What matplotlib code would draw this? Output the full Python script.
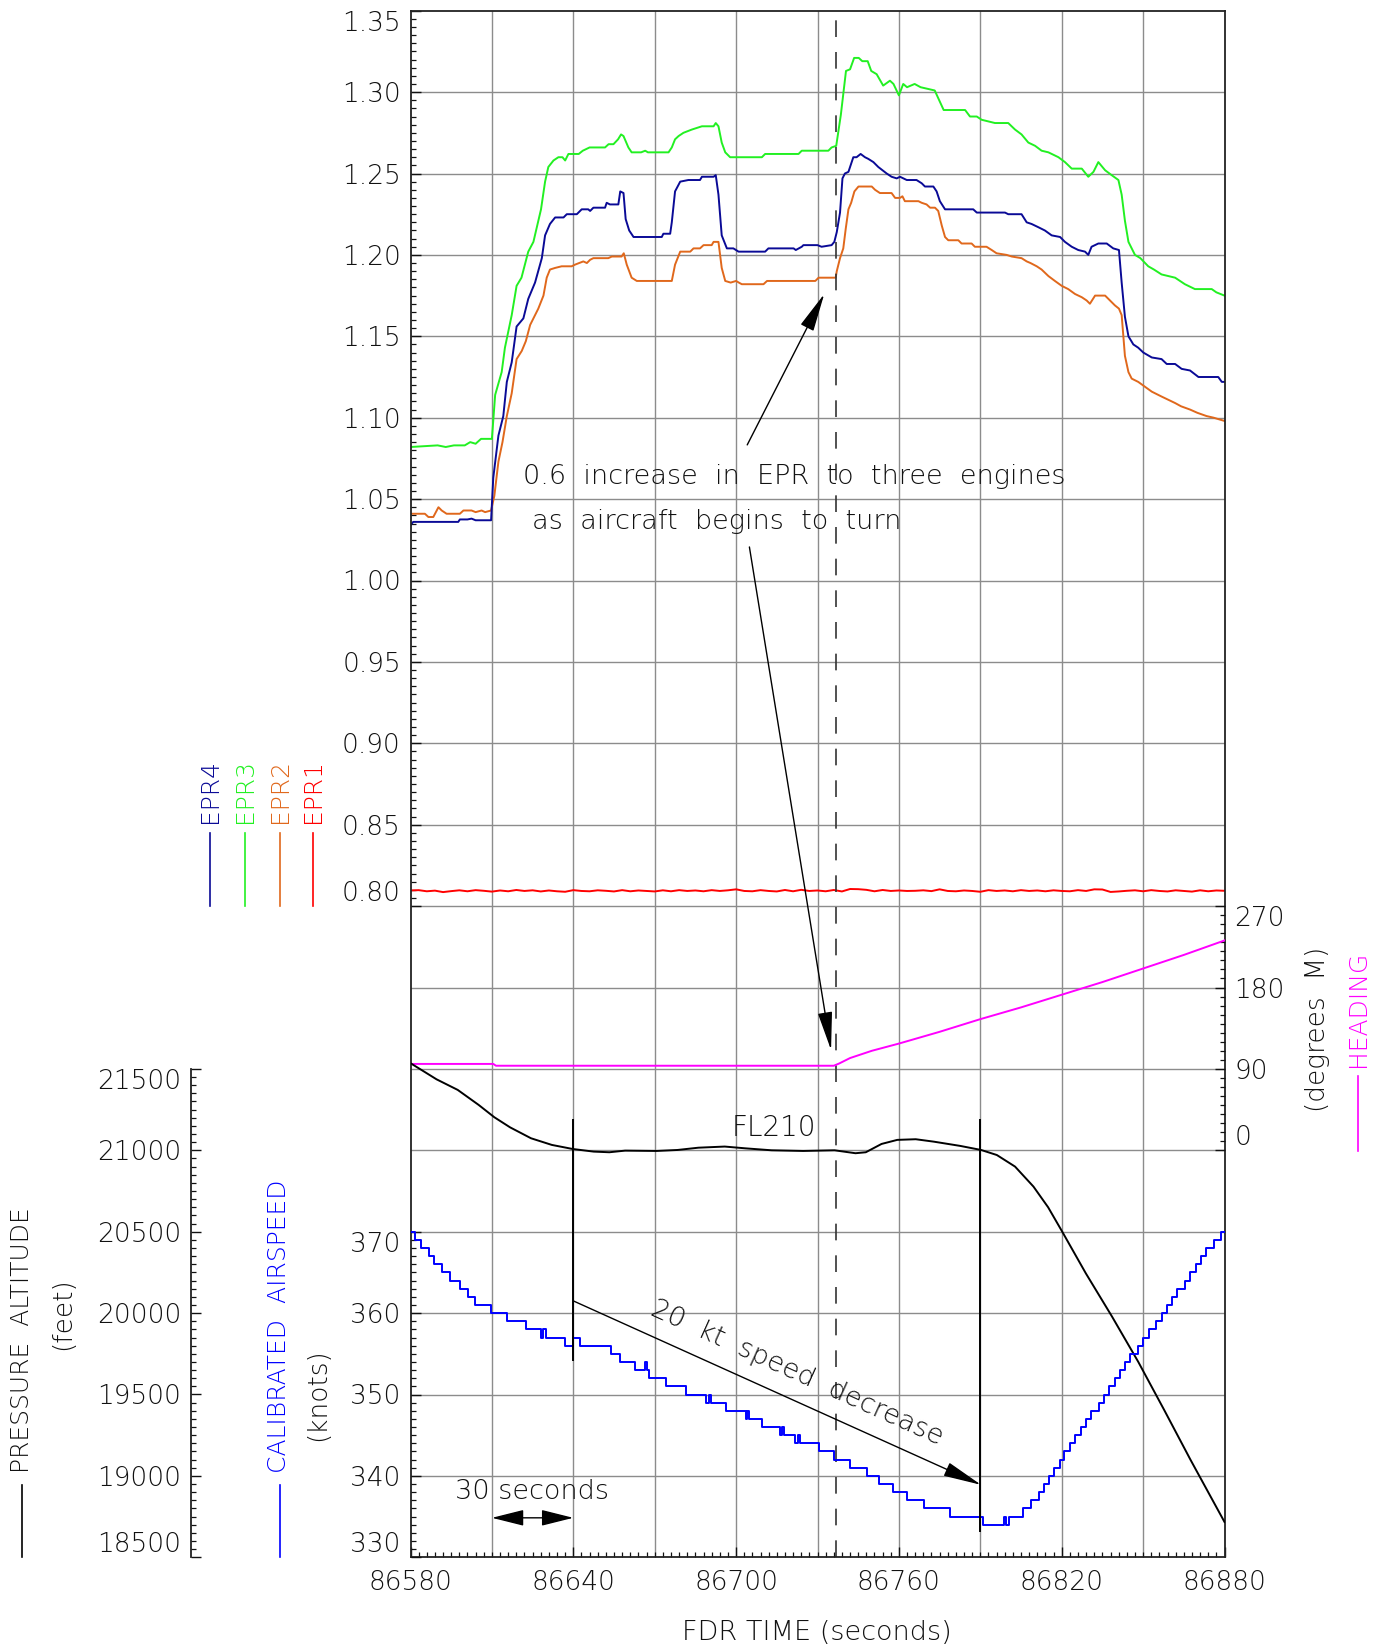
import numpy as np
import matplotlib
matplotlib.use('Agg')
import matplotlib.pyplot as plt
from matplotlib.ticker import FixedLocator, FuncFormatter
from matplotlib.lines import Line2D

plt.rcParams['font.family'] = ['DejaVu Sans']
plt.rcParams['font.weight'] = 'light'
plt.rcParams['font.size'] = 19
INK = '#111111'
plt.rcParams['text.color'] = INK

# ---------------- data ----------------
# EPR (engine pressure ratio), (FDR time s, EPR)
epr3 = [(86580, 1.082), (86590, 1.083), (86593, 1.082), (86596, 1.083), (86600, 1.083),
        (86602, 1.085), (86604, 1.084), (86606, 1.087), (86610, 1.087), (86611.2, 1.114),
        (86613.6, 1.128), (86614.8, 1.143), (86617.3, 1.163), (86619.1, 1.181), (86620.9, 1.186),
        (86623.4, 1.202), (86625.3, 1.208), (86628.1, 1.228), (86629.6, 1.245), (86630.8, 1.254),
        (86632.7, 1.258), (86634.5, 1.260), (86636, 1.260), (86637, 1.258), (86638.2, 1.262),
        (86642, 1.262), (86643.5, 1.264), (86646, 1.266), (86651.7, 1.266), (86653, 1.268),
        (86654.8, 1.268), (86656.5, 1.271), (86657.6, 1.274), (86658.5, 1.273), (86660.3, 1.266),
        (86661.5, 1.263), (86665, 1.263), (86666.5, 1.264), (86667.5, 1.263), (86675.1, 1.263),
        (86676.3, 1.266), (86677.5, 1.271), (86678.8, 1.273), (86680.6, 1.275), (86683.7, 1.277),
        (86687.4, 1.279), (86691.7, 1.279), (86692.5, 1.281), (86693.5, 1.279), (86694.7, 1.269),
        (86696, 1.263), (86697.8, 1.260), (86709.5, 1.260), (86710.7, 1.262), (86723, 1.262),
        (86724.2, 1.264), (86734, 1.264), (86735.2, 1.266), (86736.9, 1.267), (86738.6, 1.286),
        (86740.5, 1.313), (86742, 1.314), (86743.5, 1.321), (86745.2, 1.321), (86746.5, 1.319),
        (86748.5, 1.319), (86749.8, 1.313), (86751.8, 1.311), (86754.2, 1.304), (86756.7, 1.307),
        (86758, 1.305), (86760, 1.298), (86761.6, 1.305), (86763, 1.303), (86765.8, 1.305),
        (86768, 1.303), (86773.2, 1.301), (86776.5, 1.289), (86784.4, 1.289), (86786.2, 1.285),
        (86788.7, 1.285), (86790.5, 1.283), (86795.4, 1.281), (86800.3, 1.281), (86802.8, 1.277),
        (86805.2, 1.274), (86807.7, 1.269), (86810.2, 1.267), (86812.6, 1.264), (86815.1, 1.263),
        (86818.8, 1.260), (86821.2, 1.257), (86823.7, 1.253), (86827.4, 1.253), (86829.8, 1.248),
        (86831.7, 1.251), (86833.5, 1.257), (86836, 1.252), (86838.4, 1.249), (86840.9, 1.246),
        (86842.1, 1.237), (86843.3, 1.221), (86844.6, 1.208), (86847, 1.200), (86849, 1.198),
        (86851.9, 1.193), (86854, 1.191), (86856.8, 1.188), (86861.8, 1.186), (86865.4, 1.182),
        (86869.1, 1.179), (86875.3, 1.179), (86877, 1.177), (86880, 1.175)]

epr4 = [(86580, 1.034), (86581, 1.036), (86597.6, 1.036), (86598.2, 1.0375), (86601, 1.0375),
        (86602.5, 1.038), (86604, 1.037), (86609.7, 1.037), (86610.5, 1.063), (86612.4, 1.089),
        (86614.2, 1.101), (86615.5, 1.122), (86617.3, 1.134), (86619.1, 1.156), (86621.6, 1.161),
        (86623.4, 1.173), (86625.9, 1.183), (86628.4, 1.198), (86629.6, 1.212), (86631.4, 1.219),
        (86633.3, 1.223), (86636.4, 1.223), (86637.6, 1.225), (86641.3, 1.225), (86643.1, 1.228),
        (86645.5, 1.228), (86646.2, 1.227), (86647.4, 1.229), (86651.7, 1.229), (86652.3, 1.232),
        (86653.5, 1.231), (86656.6, 1.231), (86657.3, 1.239), (86658.5, 1.238), (86659.3, 1.222),
        (86660.6, 1.215), (86662.2, 1.211), (86672.6, 1.211), (86673.2, 1.213), (86675.7, 1.213),
        (86676.3, 1.220), (86677.5, 1.239), (86679.4, 1.245), (86682.4, 1.246), (86686.7, 1.246),
        (86687.4, 1.248), (86691.7, 1.248), (86692.5, 1.249), (86693.5, 1.237), (86694.7, 1.212),
        (86696.6, 1.204), (86699, 1.204), (86700.9, 1.202), (86710.7, 1.202), (86711.9, 1.204),
        (86721.2, 1.204), (86722, 1.203), (86724.2, 1.205), (86724.8, 1.206), (86730, 1.206),
        (86731.5, 1.205), (86735.2, 1.206), (86736.2, 1.208), (86737.1, 1.214), (86738.3, 1.226),
        (86739.2, 1.247), (86740.1, 1.250), (86741.4, 1.251), (86743.2, 1.260), (86744.4, 1.260),
        (86745.9, 1.262), (86747.5, 1.260), (86748.7, 1.259), (86750.6, 1.257), (86752.4, 1.254),
        (86755.5, 1.250), (86757.3, 1.248), (86759.2, 1.247), (86760.4, 1.248), (86762.9, 1.246),
        (86766.5, 1.246), (86768.4, 1.244), (86769.6, 1.242), (86772.7, 1.242), (86773.9, 1.239),
        (86775.1, 1.233), (86777, 1.228), (86787.4, 1.228), (86788.7, 1.226), (86799.1, 1.226),
        (86800.3, 1.225), (86805.2, 1.225), (86807.1, 1.220), (86808.9, 1.219), (86811.4, 1.217),
        (86813.8, 1.215), (86816.3, 1.212), (86819.4, 1.211), (86821.2, 1.208), (86823.7, 1.205),
        (86826.1, 1.203), (86828.6, 1.202), (86829.8, 1.200), (86831, 1.205), (86833.5, 1.207),
        (86836.6, 1.207), (86839, 1.204), (86841.1, 1.203), (86842.1, 1.183), (86843.3, 1.162),
        (86844.6, 1.150), (86846.4, 1.145), (86848.2, 1.143), (86850.1, 1.140), (86853.2, 1.137),
        (86856.8, 1.136), (86858.7, 1.133), (86861.8, 1.133), (86864.2, 1.130), (86867.3, 1.129),
        (86870.4, 1.125), (86877.7, 1.125), (86879, 1.122), (86880, 1.122)]

epr2 = [(86580, 1.041), (86585.3, 1.041), (86586.6, 1.039), (86588.4, 1.039), (86590.3, 1.045),
        (86591.5, 1.043), (86593.3, 1.041), (86598.2, 1.041), (86599.5, 1.043), (86602.5, 1.043),
        (86604, 1.042), (86606.2, 1.043), (86607.5, 1.042), (86609.7, 1.043), (86610.9, 1.052),
        (86612.4, 1.073), (86613.9, 1.085), (86615.5, 1.101), (86617.3, 1.115), (86619.1, 1.136),
        (86621, 1.141), (86622.5, 1.147), (86624.1, 1.157), (86625.3, 1.161), (86627.1, 1.167),
        (86629, 1.175), (86630.2, 1.186), (86631.4, 1.191), (86633.3, 1.192), (86635.7, 1.193),
        (86639.4, 1.193), (86640.6, 1.194), (86643.7, 1.196), (86645, 1.195), (86646.2, 1.197),
        (86647.4, 1.198), (86652.9, 1.198), (86654.2, 1.199), (86657.8, 1.199), (86658.6, 1.201),
        (86659.7, 1.194), (86661.5, 1.186), (86663.4, 1.184), (86676.3, 1.184), (86677.5, 1.194),
        (86679.4, 1.202), (86683.1, 1.202), (86684.3, 1.204), (86686.7, 1.204), (86688, 1.206),
        (86691, 1.206), (86691.7, 1.208), (86693.5, 1.208), (86694.7, 1.192), (86696, 1.184),
        (86698, 1.183), (86700, 1.184), (86701, 1.183), (86702.1, 1.182), (86710.1, 1.182),
        (86711.4, 1.184), (86729.2, 1.184), (86730.4, 1.186), (86736.7, 1.186), (86737.1, 1.190),
        (86738.3, 1.198), (86739.5, 1.204), (86740.4, 1.216), (86741.4, 1.228), (86742.4, 1.232),
        (86743.6, 1.239), (86745.1, 1.242), (86750, 1.242), (86751.2, 1.240), (86753, 1.238),
        (86757.3, 1.238), (86758.6, 1.235), (86760.4, 1.235), (86761.3, 1.236), (86762.2, 1.233),
        (86767.2, 1.233), (86768.4, 1.232), (86770.2, 1.231), (86771.5, 1.229), (86773.3, 1.229),
        (86774.5, 1.227), (86775.8, 1.218), (86777, 1.211), (86778.2, 1.209), (86781.9, 1.209),
        (86783.1, 1.207), (86786.8, 1.207), (86788, 1.205), (86792.3, 1.205), (86794.2, 1.203),
        (86796, 1.201), (86799.7, 1.200), (86801.6, 1.199), (86805.2, 1.198), (86807.1, 1.196),
        (86808.5, 1.195), (86810.8, 1.193), (86812.6, 1.191), (86815.1, 1.187), (86817.5, 1.184),
        (86820, 1.181), (86822.4, 1.179), (86824.9, 1.176), (86827.4, 1.174), (86829.2, 1.172),
        (86830.4, 1.170), (86832.3, 1.175), (86836, 1.175), (86837.8, 1.172), (86839.6, 1.169),
        (86841.1, 1.167), (86842.1, 1.163), (86843.3, 1.138), (86844.6, 1.128), (86845.8, 1.124),
        (86848.2, 1.122), (86850.7, 1.119), (86853.2, 1.116), (86856.8, 1.113), (86861.8, 1.109),
        (86864, 1.107), (86867.3, 1.105), (86870, 1.103), (86873.4, 1.101), (86876, 1.100),
        (86880, 1.098)]

# EPR1 sampled every 3 s from 86580 to 86880
epr1_t = np.arange(86580, 86881, 3)
epr1 = [0.8096, 0.8098, 0.8091, 0.8095, 0.8086, 0.8092, 0.8097, 0.8091, 0.8098, 0.8094,
        0.8089, 0.8096, 0.8091, 0.8099, 0.8093, 0.8097, 0.8090, 0.8096, 0.8091, 0.8088,
        0.8098, 0.8093, 0.8091, 0.8097, 0.8094, 0.8090, 0.8098, 0.8091, 0.8096, 0.8093,
        0.8090, 0.8097, 0.8091, 0.8098, 0.8093, 0.8096, 0.8091, 0.8098, 0.8093, 0.8097,
        0.8103, 0.8093, 0.8091, 0.8098, 0.8093, 0.8090, 0.8099, 0.8091, 0.8100, 0.8093,
        0.8096, 0.8091, 0.8099, 0.8090, 0.8105, 0.8104, 0.8100, 0.8091, 0.8099, 0.8093,
        0.8096, 0.8093, 0.8094, 0.8097, 0.8092, 0.8103, 0.8093, 0.8091, 0.8096, 0.8093,
        0.8088, 0.8098, 0.8093, 0.8096, 0.8091, 0.8098, 0.8093, 0.8096, 0.8091, 0.8097,
        0.8093, 0.8091, 0.8098, 0.8093, 0.8103, 0.8102, 0.8087, 0.8090, 0.8094, 0.8097,
        0.8091, 0.8098, 0.8093, 0.8090, 0.8097, 0.8093, 0.8089, 0.8097, 0.8091, 0.8096,
        0.8094]

# heading (degrees M)
heading = [(86580, 95.5), (86610.5, 95.5), (86611.5, 93.5), (86736, 93.5), (86738, 96),
           (86742, 102), (86750, 110), (86760, 118), (86775, 131), (86790, 145),
           (86805, 158), (86820, 172), (86835, 186), (86850, 201), (86865, 216), (86880, 232)]

# pressure altitude (feet)
altitude = [(86580, 21535), (86584, 21494), (86589.6, 21436), (86597.4, 21371), (86605.1, 21279),
            (86610.9, 21203), (86616.7, 21141), (86624.4, 21074), (86632.1, 21033), (86639.8, 21008),
            (86647.5, 20992), (86653.3, 20988), (86659.1, 20998), (86670.7, 20996), (86678.4, 21002),
            (86686.1, 21016), (86695.8, 21023), (86703.5, 21012), (86713.1, 21000), (86724.7, 20996),
            (86736.3, 21000), (86744, 20982), (86747.8, 20988), (86753.6, 21039), (86759.4, 21064),
            (86766.2, 21068), (86772.9, 21053), (86782.6, 21027), (86790.3, 21002), (86796.1, 20971),
            (86802.8, 20900), (86809.6, 20777), (86815, 20650), (86820.2, 20500), (86828.9, 20244),
            (86838.5, 19980), (86848.2, 19701), (86857.8, 19404), (86867.5, 19098), (86880, 18717)]

# calibrated airspeed (knots), value held from each time on
airspeed = [(86580, 370), (86581.5, 369), (86583.9, 368), (86586.8, 367), (86588.7, 366),
            (86591.6, 365), (86594.5, 364), (86598.3, 363), (86601.2, 362), (86603.7, 361),
            (86609.5, 360), (86615.7, 359), (86622.4, 358), (86628.2, 357), (86629.0, 358),
            (86629.8, 357), (86636.9, 356), (86639.8, 357), (86642.3, 356), (86653.9, 355),
            (86657.2, 354), (86662.6, 353), (86666.4, 354), (86667.2, 353), (86667.8, 352),
            (86674.0, 351), (86681.7, 350), (86689.0, 349), (86690.0, 350), (86690.9, 349),
            (86696.1, 348), (86703.5, 347), (86704.0, 348), (86704.6, 347), (86709.6, 346),
            (86716.0, 345), (86716.8, 346), (86717.6, 345), (86721.8, 344), (86722.8, 345),
            (86723.7, 344), (86730.5, 343), (86735.9, 342), (86742.1, 341), (86748.2, 340),
            (86752.7, 339), (86757.9, 338), (86762.9, 337), (86769.1, 336), (86778.7, 335),
            (86790.9, 334), (86798.6, 335), (86799.4, 334), (86800.6, 335), (86805.7, 336),
            (86808.6, 337), (86811.5, 338), (86813.5, 339), (86815.4, 340), (86817.3, 341),
            (86819.2, 342), (86820.8, 343), (86823.1, 344), (86825.0, 345), (86827.0, 346),
            (86828.9, 347), (86830.8, 348), (86833.7, 349), (86835.6, 350), (86837.6, 351),
            (86839.5, 352), (86841.4, 353), (86843.3, 354), (86845.3, 355), (86848.2, 356),
            (86850.1, 357), (86852.0, 358), (86854.9, 359), (86856.9, 360), (86858.8, 361),
            (86860.7, 362), (86862.6, 363), (86865.5, 364), (86867.4, 365), (86869.4, 366),
            (86871.3, 367), (86873.3, 368), (86876.2, 369), (86878.7, 370), (86880, 370)]

turn_start = 86737           # dashed marker
speed_marks = [86640, 86790]  # start / end of the 20 kt decrease

C_EPR1, C_EPR2, C_EPR3, C_EPR4 = '#ff0000', '#e0681c', '#22f022', '#0a0a96'
C_HDG, C_SPD, C_ALT = '#ff00ff', '#0000ff', '#000000'
GRID = '#8c8c8c'

# ---------------- figure layout ----------------
W, H = 1381, 1650
fig = plt.figure(figsize=(W / 100, H / 100), dpi=100)


def fx(px):
    return px / W


def fy(py):
    return 1 - py / H


L, R, T, B = 410.5, 1224.5, 10.7, 1557.3
ax = fig.add_axes([fx(L), fy(B), fx(R) - fx(L), fy(T) - fy(B)])
ax.set_xlim(86580, 86880)
ax.set_ylim(0.40, 1.35)

ax_hdg = ax.twinx()
ax_hdg.set_ylim(-450, 1260)
ax_alt = ax.twinx()
ax_alt.set_ylim(18500, 28000)
ax_spd = ax.twinx()
ax_spd.set_ylim(330, 520)

for a in (ax_hdg, ax_alt, ax_spd):
    for s in a.spines.values():
        s.set_visible(False)
for s in ax.spines.values():
    s.set_color('#222222')
    s.set_linewidth(1.3)

ax_alt.spines['left'].set_visible(True)
ax_alt.spines['left'].set_position(('axes', (191 - L) / (R - L)))
ax_alt.spines['left'].set_bounds(18500, 21500)
ax_alt.spines['left'].set_color('#222222')
ax_alt.spines['left'].set_linewidth(1.3)
ax_alt.yaxis.tick_left()
ax_spd.yaxis.tick_left()
ax.yaxis.tick_left()

# ticks
ax.xaxis.set_major_locator(FixedLocator(np.arange(86580, 86881, 60)))
ax.xaxis.set_minor_locator(FixedLocator(np.arange(86580, 86881, 3)))
ax.yaxis.set_major_locator(FixedLocator(np.round(np.arange(0.80, 1.3501, 0.05), 2)))
ax.yaxis.set_minor_locator(FixedLocator(np.round(np.arange(0.80, 1.3501, 0.005), 3)))
ax.yaxis.set_major_formatter(FuncFormatter(lambda v, p: f'{v:.2f}'))
ax_hdg.yaxis.set_major_locator(FixedLocator([0, 90, 180, 270]))
ax_hdg.yaxis.set_minor_locator(FixedLocator(np.arange(0, 271, 10)))
ax_alt.yaxis.set_major_locator(FixedLocator(np.arange(18500, 21501, 500)))
ax_alt.yaxis.set_minor_locator(FixedLocator(np.arange(18500, 21501, 50)))
ax_spd.yaxis.set_major_locator(FixedLocator(np.arange(330, 371, 10)))
ax_spd.yaxis.set_minor_locator(FixedLocator(np.arange(330, 371, 1)))

for a in (ax, ax_hdg, ax_alt, ax_spd):
    a.tick_params(which='major', direction='in', length=7, width=1, colors=INK,
                  labelsize=19, pad=7)
    a.tick_params(which='minor', direction='in', length=3.5, width=0.9, colors=INK)
ax.tick_params(axis='x', pad=9)

# end labels sit inside the range, as in the original
for a in (ax, ax_hdg, ax_alt, ax_spd):
    ticks = a.yaxis.get_major_ticks()
    for tk in ticks:
        tk.label1.set_fontweight('light')
        tk.label2.set_fontweight('light')
    ticks[0].label1.set_va('bottom')
    ticks[0].label2.set_va('bottom')
    ticks[-1].label1.set_va('top')
    ticks[-1].label2.set_va('top')
for tk in ax.xaxis.get_major_ticks():
    tk.label1.set_fontweight('light')

# grid
for y in np.round(np.arange(0.45, 1.3001, 0.05), 2):
    ax.axhline(y, color=GRID, lw=1.0, zorder=0.5)
for x in np.arange(86610, 86851, 30):
    ax.axvline(x, color=GRID, lw=1.0, zorder=0.5)

# ---------------- curves ----------------
ax.plot(epr1_t, epr1, color=C_EPR1, lw=1.4)
t, v = zip(*epr2)
ax.plot(t, v, color=C_EPR2, lw=1.4)
t, v = zip(*epr3)
ax.plot(t, v, color=C_EPR3, lw=1.4)
t, v = zip(*epr4)
ax.plot(t, v, color=C_EPR4, lw=1.4)

t, v = zip(*heading)
ax_hdg.plot(t, v, color=C_HDG, lw=1.4)
t, v = zip(*altitude)
ax_alt.plot(t, v, color=C_ALT, lw=1.4)
t, v = zip(*airspeed)
ax_spd.plot(t, v, color=C_SPD, lw=1.4, drawstyle='steps-post')

ax.axvline(turn_start, color='#333333', lw=1.2, dashes=(10, 9))
ax_spd.vlines(speed_marks[0], 354.1, 383.9, color='black', lw=1.4)
ax_spd.vlines(speed_marks[1], 333.1, 383.9, color='black', lw=1.4)

# ---------------- annotations ----------------
head = dict(arrowstyle='-|>,head_length=2.4,head_width=0.45', color='black', lw=1.0,
            shrinkA=0, shrinkB=0, mutation_scale=10)
ax.text(86621.5, 1.0638, '0.6  increase  in  EPR  to  three  engines', ha='left',
        va='center', fontsize=19.5)
ax.text(86624.6, 1.0365, 'as  aircraft  begins  to  turn', ha='left', va='center',
        fontsize=19.5)
ax.annotate('', xy=(86732.5, 1.176), xytext=(86704.1, 1.0833), arrowprops=head)
ax.annotate('', xy=(86735.0, 0.7116), xytext=(86704.9, 1.0206), arrowprops=head)

ax_alt.text(86713.8, 21140, 'FL210', ha='center', va='center', fontsize=20)

ax_spd.annotate('', xy=(86790.3, 338.9), xytext=(86640, 361.5), arrowprops=head)
ax_spd.text(86722.6, 352.7, '20  kt  speed  decrease', ha='center', va='center',
            rotation=-24.3, rotation_mode='anchor', fontsize=19.5)
ax_spd.text(86624.7, 338.1, '30 seconds', ha='center', va='center', fontsize=19.5)
ax_spd.annotate('', xy=(86640, 334.85), xytext=(86610, 334.85),
                arrowprops=dict(arrowstyle='<|-|>,head_length=2.0,head_width=0.5',
                                color='black', lw=1.0, shrinkA=0, shrinkB=0,
                                mutation_scale=10))

# ---------------- axis titles / legends outside the frame ----------------
for name, col, xp in [('EPR4', C_EPR4, 210.2), ('EPR3', C_EPR3, 245.1),
                      ('EPR2', C_EPR2, 279.5), ('EPR1', C_EPR1, 313.1)]:
    fig.text(fx(xp), fy(823.4), name, rotation=90, ha='center', va='bottom', color=col,
             fontsize=18)
    fig.add_artist(Line2D([fx(xp)] * 2, [fy(833.3), fy(905.8)], color=col, lw=1.2))

fig.text(fx(1317.3), fy(1029.5), '(degrees  M)', rotation=90, ha='center', va='center',
         fontsize=19)
fig.text(fx(1358.4), fy(1067.2), 'HEADING', rotation=90, ha='center', va='bottom',
         color=C_HDG, fontsize=18)
fig.add_artist(Line2D([fx(1358.4)] * 2, [fy(1076), fy(1151)], color=C_HDG, lw=1.2))

fig.text(fx(22.4), fy(1473), 'PRESSURE  ALTITUDE', rotation=90, ha='center', va='bottom',
         fontsize=18)
fig.add_artist(Line2D([fx(22.4)] * 2, [fy(1485), fy(1557.3)], color='black', lw=1.2))
fig.text(fx(62.6), fy(1313.3), '(feet)', rotation=90, ha='center', va='center', fontsize=19)
fig.text(fx(279.5), fy(1473), 'CALIBRATED  AIRSPEED', rotation=90, ha='center', va='bottom',
         color=C_SPD, fontsize=18)
fig.add_artist(Line2D([fx(279.5)] * 2, [fy(1485), fy(1557.3)], color=C_SPD, lw=1.2))
fig.text(fx(317.5), fy(1395), '(knots)', rotation=90, ha='center', va='center', fontsize=19)

fig.text(fx(816.5), fy(1632), 'FDR TIME (seconds)', ha='center', va='center', fontsize=19.5)

fig.savefig('out.png', dpi=100)
plt.close(fig)
